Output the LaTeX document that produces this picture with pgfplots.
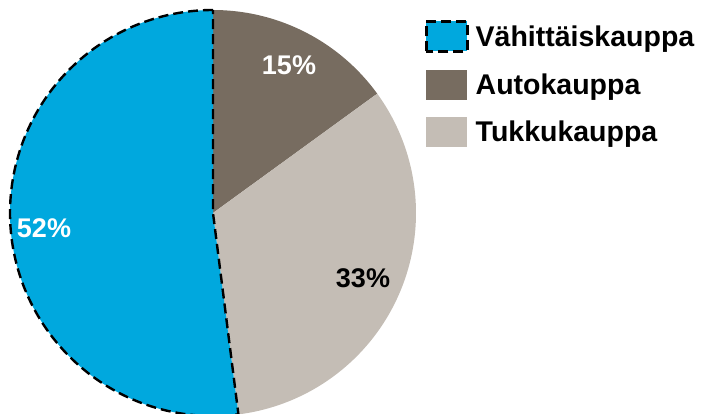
\documentclass[border=0pt]{standalone}
\usepackage{fontspec}
\setmainfont{Liberation Sans}
\usepackage{pgfplots}
\pgfplotsset{compat=1.18}
\definecolor{cblue}{HTML}{00A8DE}
\definecolor{cbrown}{HTML}{776C60}
\definecolor{clight}{HTML}{C4BDB5}
\begin{document}
\begin{tikzpicture}
% data (percent)
\pgfmathsetmacro{\vAuto}{15}
\pgfmathsetmacro{\vTukku}{33}
\pgfmathsetmacro{\vVahit}{52}
\pgfmathsetmacro{\aZero}{90}
\pgfmathsetmacro{\aOne}{\aZero-3.6*\vAuto}
\pgfmathsetmacro{\aTwo}{\aOne-3.6*\vTukku}
\pgfmathsetmacro{\aThree}{\aTwo-3.6*\vVahit}
\def\cx{213}\def\cy{201}\def\r{203}
\begin{axis}[
  scale only axis, width=705pt, height=414pt,
  xmin=0, xmax=705, ymin=0, ymax=414,
  hide axis, clip=true,
  legend image code/.code={\path[#1] (0pt,-15pt) rectangle (41pt,15pt);},
  legend style={draw=none, fill=none, at={(axis cs:425,394)}, anchor=north west,
    font=\fontsize{28.5}{31}\selectfont\bfseries, row sep=17pt, inner sep=0pt,
    nodes={inner xsep=7pt}},
  legend cell align=left,
]
\path (rel axis cs:0,0) rectangle (rel axis cs:1,1);
\addlegendimage{fill=cblue, draw=black, line width=2.5pt, dash pattern=on 10pt off 5pt}
\addlegendentry{Vähittäiskauppa}
\addlegendimage{fill=cbrown, draw=none}
\addlegendentry{Autokauppa}
\addlegendimage{fill=clight, draw=none}
\addlegendentry{Tukkukauppa}

\addplot[forget plot, fill=cbrown, draw=none, domain=\aOne:\aZero, samples=100]
  ({\cx+\r*cos(x)},{\cy+\r*sin(x)}) -- (axis cs:\cx,\cy) -- cycle;
\addplot[forget plot, fill=clight, draw=none, domain=\aTwo:\aOne, samples=150]
  ({\cx+\r*cos(x)},{\cy+\r*sin(x)}) -- (axis cs:\cx,\cy) -- cycle;
\addplot[forget plot, fill=cblue, draw=black, line width=2.4pt, dash pattern=on 10pt off 5pt,
  domain=\aThree:\aTwo, samples=200]
  ({\cx+\r*cos(x)},{\cy+\r*sin(x)}) -- (axis cs:\cx,\cy) -- cycle;

\node[white, font=\fontsize{27}{30}\selectfont\bfseries] at (axis cs:289,349) {15\%};
\node[black, font=\fontsize{27}{30}\selectfont\bfseries] at (axis cs:363,136) {33\%};
\node[white, font=\fontsize{27}{30}\selectfont\bfseries] at (axis cs:44,186) {52\%};
\end{axis}
\end{tikzpicture}
\end{document}
